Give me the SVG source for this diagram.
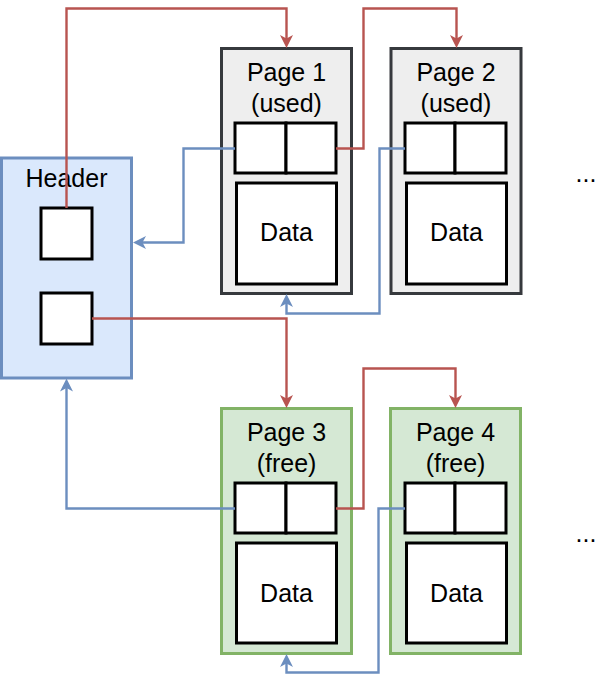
<svg xmlns="http://www.w3.org/2000/svg" width="612" height="683" viewBox="0 0 612 683">
<style>
text{font-family:"Liberation Sans",Arial,Helvetica,sans-serif;font-size:25px;fill:#000;text-anchor:middle}
.used{fill:#eeeeee;stroke:#36393d;stroke-width:3}
.free{fill:#d5e8d4;stroke:#82b366;stroke-width:3}
.hdr{fill:#dae8fc;stroke:#6c8ebf;stroke-width:3}
.box{fill:#fff;stroke:#000;stroke-width:3}
.red{fill:none;stroke:#b85450;stroke-width:2.4}
.blue{fill:none;stroke:#6c8ebf;stroke-width:2.4}
</style>
<defs>
<marker id="ar" viewBox="0 0 13 13" refX="9" refY="6.5" markerWidth="13" markerHeight="13" markerUnits="userSpaceOnUse" orient="auto"><path d="M13,6.5 L0,0 L3.5,6.5 L0,13 Z" fill="#b85450"/></marker>
<marker id="ab" viewBox="0 0 13 13" refX="9" refY="6.5" markerWidth="13" markerHeight="13" markerUnits="userSpaceOnUse" orient="auto"><path d="M13,6.5 L0,0 L3.5,6.5 L0,13 Z" fill="#6c8ebf"/></marker>
</defs>
<rect width="612" height="683" fill="#fff"/>
<g id="header">
<rect class="hdr" x="1.5" y="158" width="130" height="220"/>
<text x="66.5" y="187">Header</text>
<rect class="box" x="41" y="208" width="51" height="51"/>
<rect class="box" x="41" y="293" width="51" height="51"/>
</g>
<g id="page1">
<rect class="used" x="221.5" y="48.5" width="130" height="245"/>
<text x="286.5" y="81">Page 1</text>
<text x="286.5" y="111.5">(used)</text>
<rect class="box" x="235" y="123" width="51" height="50"/>
<rect class="box" x="286" y="123" width="50" height="50"/>
<rect class="box" x="236.5" y="183" width="100" height="101"/>
<text x="286.5" y="241">Data</text>
</g>
<g id="page2">
<rect class="used" x="391" y="48.5" width="130" height="245"/>
<text x="456" y="81">Page 2</text>
<text x="456" y="111.5">(used)</text>
<rect class="box" x="405" y="123" width="50" height="50"/>
<rect class="box" x="455" y="123" width="51" height="50"/>
<rect class="box" x="406.5" y="183" width="100" height="101"/>
<text x="456.5" y="241">Data</text>
</g>
<g id="page3">
<rect class="free" x="221.5" y="408.5" width="130" height="245"/>
<text x="286.5" y="441">Page 3</text>
<text x="286.5" y="471.5">(free)</text>
<rect class="box" x="235" y="483" width="51" height="50"/>
<rect class="box" x="286" y="483" width="50" height="50"/>
<rect class="box" x="236.5" y="543" width="100" height="100"/>
<text x="286.5" y="601.5">Data</text>
</g>
<g id="page4">
<rect class="free" x="390.5" y="408.5" width="130" height="245"/>
<text x="455.5" y="441">Page 4</text>
<text x="455.5" y="471.5">(free)</text>
<rect class="box" x="405" y="483" width="50" height="50"/>
<rect class="box" x="455" y="483" width="51" height="50"/>
<rect class="box" x="406.5" y="543" width="100" height="100"/>
<text x="456.5" y="601.5">Data</text>
</g>
<g id="ellipsis1"><text x="586" y="182">...</text></g>
<g id="ellipsis2"><text x="586" y="542">...</text></g>
<g id="connectors">
<path class="red" d="M66.5 208 V8.5 H286.5 V44" marker-end="url(#ar)"/>
<path class="blue" d="M235 148.5 H183.5 V242.5 H137" marker-end="url(#ab)"/>
<path class="red" d="M336 148.5 H363.5 V8.5 H456.5 V44" marker-end="url(#ar)"/>
<path class="blue" d="M405 148.5 H379.5 V313.5 H286.5 V298" marker-end="url(#ab)"/>
<path class="red" d="M92 318.5 H286.5 V404" marker-end="url(#ar)"/>
<path class="blue" d="M235 508.5 H66.5 V382.5" marker-end="url(#ab)"/>
<path class="red" d="M336 508.5 H363.5 V368.5 H455.5 V404" marker-end="url(#ar)"/>
<path class="blue" d="M405 508.5 H378.5 V672.5 H286.5 V658" marker-end="url(#ab)"/>
</g>
</svg>
